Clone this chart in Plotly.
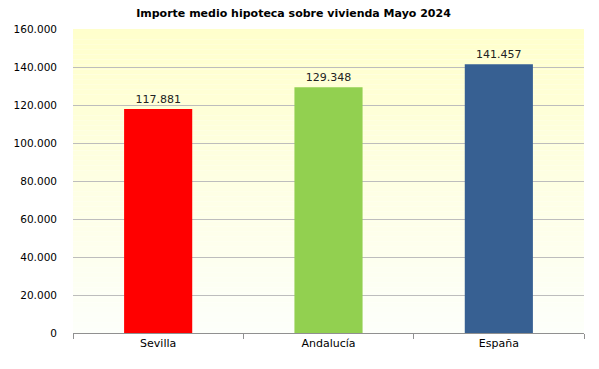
import plotly.graph_objects as go

categories = ["Sevilla", "Andalucía", "España"]
values = [117881, 129348, 141457]
colors = ["#FF0000", "#92D050", "#376092"]
y_ticks = [0, 20000, 40000, 60000, 80000, 100000, 120000, 140000, 160000]
y_ticklabels = ["0", "20.000", "40.000", "60.000", "80.000", "100.000", "120.000", "140.000", "160.000"]

fig = go.Figure()
fig.add_trace(go.Bar(
    x=categories, y=values, marker=dict(color=colors, line=dict(width=0)),
    width=0.4,
    text=[f"{v:,}".replace(",", ".") for v in values],
    textposition="outside", cliponaxis=False,
    textfont=dict(family="DejaVu Sans", size=11, color="#222222"),
))

# vertical gradient background (light yellow top -> near white bottom)
n = 60
top = (255, 255, 204)
bot = (253, 255, 250)
shapes = []
for i in range(n):
    t = i / (n - 1)
    c = tuple(round(top[k] + (bot[k] - top[k]) * t) for k in range(3))
    y1 = 1 - i / n
    y0 = 1 - (i + 1) / n
    shapes.append(dict(type="rect", xref="x domain", yref="y domain",
                       x0=0, x1=1, y0=y0, y1=y1, layer="below",
                       line=dict(width=0), fillcolor=f"rgb{c}"))

fig.update_layout(
    width=599, height=369,
    margin=dict(l=73, r=15, t=29, b=36, autoexpand=False),
    paper_bgcolor="white", plot_bgcolor="white",
    shapes=shapes,
    showlegend=False,
    title=dict(text="<b>Importe medio hipoteca sobre vivienda Mayo 2024</b>",
               x=0.49, xanchor="center", y=0.965, yanchor="middle",
               font=dict(family="DejaVu Sans", size=11, color="black")),
    font=dict(family="DejaVu Sans", size=11, color="black"),
    bargap=0.6,
)
fig.update_yaxes(range=[0, 160000], tickvals=y_ticks, ticktext=y_ticklabels,
                 showgrid=True, gridcolor="#BDBDBD", gridwidth=1, automargin=False,
                 zeroline=False, showline=False, ticks="", ticklabelstandoff=15,
                 tickfont=dict(family="DejaVu Sans", size=10.5, color="black"))
fig.update_xaxes(showline=True, linecolor="#909090", linewidth=1, automargin=False,
                 ticks="outside", tickson="boundaries", ticklen=5, tickcolor="#909090",
                 tickfont=dict(family="DejaVu Sans", size=11, color="black"),
                 showgrid=False)

fig.write_html("out.html", config={"displayModeBar": False},
               post_script="document.body.style.margin='0';document.body.style.overflow='hidden';")
